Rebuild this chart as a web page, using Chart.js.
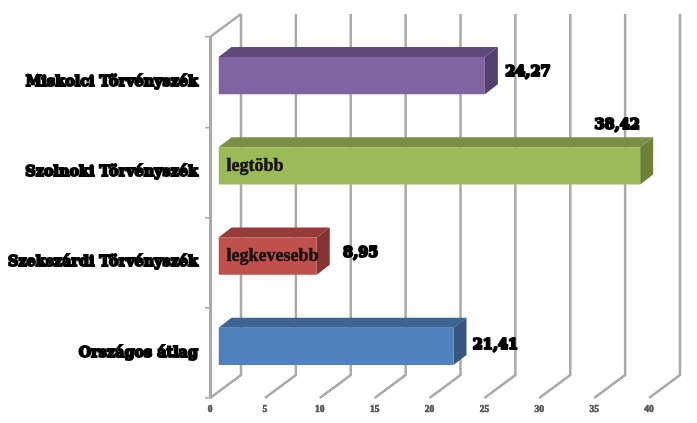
<!DOCTYPE html>
<html><head><meta charset="utf-8">
<style>html,body{margin:0;padding:0;background:#fff}#w{width:697px;height:423px;position:relative}</style>
<script src="https://cdn.jsdelivr.net/npm/chart.js@4"></script></head>
<body><div id="w"><canvas id="c"></canvas></div>
<script>
const categories = ['Miskolci Törvényszék','Szolnoki Törvényszék','Szekszárdi Törvényszék','Országos átlag'];
const values = [24.27, 38.42, 8.95, 21.41];
const notes = ['', 'legtöbb', 'legkevesebb', ''];
const xTicks = [0,5,10,15,20,25,30,35,40];
const frontColors = ['#8064A2','#9BBB59','#C0504D','#4F81BD'];
const topColors = ['#604A7B','#7A8F45','#953B39','#3D6594'];
const sideColors = ['#54406F','#6C8238','#833432','#33577F'];

const GRID = '#A9A9A9';
const BACK = {dx:31, dy:-23};
const BAR = {tx:8.5, ty:-6.5, dx:13, dy:-10};
const LABEL_OFFSET = [[43,-3.5],[-23,-41],[44,-2.5],[42,-1.5]];
const SERIF = '"Liberation Serif", serif';
const HEAVY = '"DejaVu Serif", serif';

const threeD = {
  id:'threeD',
  beforeDatasetsDraw(chart){
    const {ctx, scales:{x,y}} = chart, a = chart.chartArea;
    ctx.save();
    ctx.strokeStyle = GRID; ctx.lineWidth = 2.5;
    xTicks.forEach(v=>{
      const px = x.getPixelForValue(v);
      ctx.beginPath();
      ctx.moveTo(px, a.bottom);
      ctx.lineTo(px+BACK.dx, a.bottom+BACK.dy);
      ctx.lineTo(px+BACK.dx, a.top+BACK.dy);
      ctx.stroke();
    });
    const p0 = x.getPixelForValue(0);
    ctx.beginPath(); ctx.moveTo(p0,a.top); ctx.lineTo(p0+BACK.dx,a.top+BACK.dy); ctx.stroke();
    ctx.restore();
    ctx.save();
    ctx.translate(BAR.tx, BAR.ty);
    const bars = chart.getDatasetMeta(0).data;
    bars.forEach((b,i)=>{
      const t=b.y-b.height/2, bt=b.y+b.height/2, l=b.base, r=b.x;
      ctx.fillStyle = topColors[i];
      ctx.beginPath(); ctx.moveTo(l,t); ctx.lineTo(l+BAR.dx,t+BAR.dy); ctx.lineTo(r+BAR.dx,t+BAR.dy); ctx.lineTo(r,t); ctx.closePath(); ctx.fill();
      ctx.fillStyle = sideColors[i];
      ctx.beginPath(); ctx.moveTo(r,t); ctx.lineTo(r+BAR.dx,t+BAR.dy); ctx.lineTo(r+BAR.dx,bt+BAR.dy); ctx.lineTo(r,bt); ctx.closePath(); ctx.fill();
    });
  },
  afterDatasetsDraw(chart){ chart.ctx.restore(); },
  afterDraw(chart){
    const {ctx} = chart, bars = chart.getDatasetMeta(0).data;
    ctx.save();
    ctx.textBaseline='middle';
    bars.forEach((b,i)=>{
      const end=b.x+BAR.tx, cy=b.y+BAR.ty, [ox,oy]=LABEL_OFFSET[i];
      ctx.font='bold 14.5px '+HEAVY;
      ctx.textAlign='center';
      ctx.fillStyle='#000'; ctx.strokeStyle='#000'; ctx.lineWidth=2; ctx.lineJoin='round';
      const s=values[i].toFixed(2).replace('.',',');
      ctx.strokeText(s,end+ox,cy+oy); ctx.fillText(s,end+ox,cy+oy);
      if(notes[i]){
        ctx.font='bold 18px '+SERIF;
        ctx.textAlign='left';
        ctx.fillStyle='#1a1210'; ctx.strokeStyle='#1a1210'; ctx.lineWidth=0.5;
        ctx.strokeText(notes[i], b.base+BAR.tx+8, cy);
        ctx.fillText(notes[i], b.base+BAR.tx+8, cy);
      }
    });
    ctx.restore();
  }
};

new Chart(document.getElementById('c'),{
  type:'bar',
  data:{labels:categories,datasets:[{data:values,backgroundColor:frontColors,borderWidth:0,barPercentage:0.41,categoryPercentage:1}]},
  plugins:[threeD],
  options:{
    indexAxis:'y',responsive:true,maintainAspectRatio:false,animation:false,
    layout:{padding:{top:37,right:48,left:0,bottom:0}},
    plugins:{legend:{display:false},title:{display:false},tooltip:{enabled:false}},
    scales:{
      x:{min:0,max:40,
        afterFit(s){s.height=25;},
        afterBuildTicks(s){s.ticks=xTicks.map(v=>({value:v}));},
        grid:{display:false},border:{display:false},
        ticks:{padding:-2,maxRotation:0,color:'#595959',textStrokeColor:'#595959',textStrokeWidth:0.7,font:{family:SERIF,size:9.5,weight:'bold'}}},
      y:{
        afterFit(s){s.width=210;},
        grid:{drawOnChartArea:false,drawTicks:true,tickLength:5,color:GRID,lineWidth:1.5},
        border:{display:true,color:GRID,width:3},
        ticks:{padding:7,color:'#000',textStrokeColor:'#000',textStrokeWidth:1.9,font:{family:HEAVY,size:14.4,weight:'bold'}}}
    }
  }
});
</script></body></html>
